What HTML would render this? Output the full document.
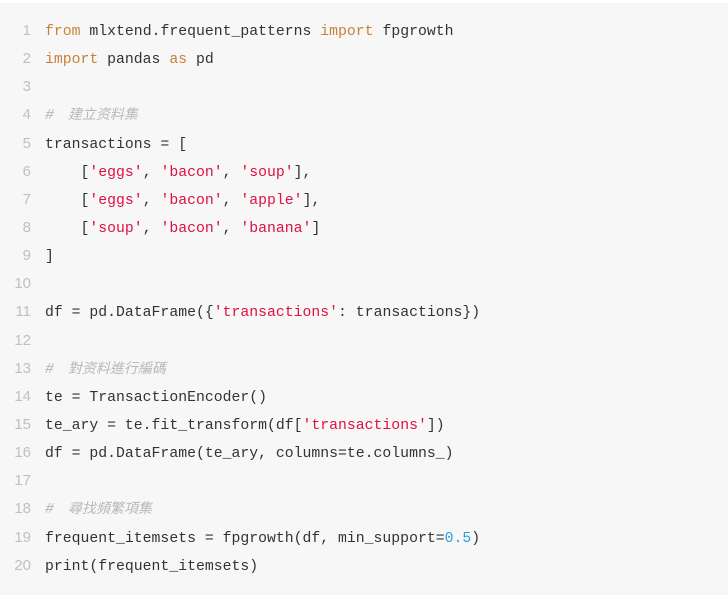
<!DOCTYPE html>
<html><head><meta charset="utf-8"><style>
html,body{margin:0;padding:0;width:728px;height:595px;overflow:hidden;background:#fff}
.box{position:absolute;left:0;top:3px;width:728px;height:592px;background:#f7f7f7}
.code{position:absolute;left:0;top:17px;font-family:"Liberation Mono",monospace;font-size:14.8px;color:#333;white-space:pre}
.code>div{height:28.15px;line-height:28.15px;overflow:visible}
.ln{display:inline-block;width:31px;text-align:right;color:#c0c0c0;margin-right:14px;font-family:"Liberation Sans",sans-serif;font-size:15px}
.k{color:#c8813b}.s{color:#dd1144}.n{color:#2aa0e3}
.c{color:#b0b0b0;font-style:italic}
.cj{font-family:"Noto Sans CJK TC",sans-serif;font-style:italic;color:#b8b8b8;font-size:14px;margin-left:14px;line-height:1}
</style></head><body><div class="box"></div>
<div class="code"><div><span class="ln">1</span><span class="k">from</span> mlxtend.frequent_patterns <span class="k">import</span> fpgrowth</div><div><span class="ln">2</span><span class="k">import</span> pandas <span class="k">as</span> pd</div><div><span class="ln">3</span></div><div><span class="ln">4</span><span class="c">#</span><span class="cj">建立资料集</span></div><div><span class="ln">5</span>transactions = [</div><div><span class="ln">6</span>    [<span class="s">'eggs'</span>, <span class="s">'bacon'</span>, <span class="s">'soup'</span>],</div><div><span class="ln">7</span>    [<span class="s">'eggs'</span>, <span class="s">'bacon'</span>, <span class="s">'apple'</span>],</div><div><span class="ln">8</span>    [<span class="s">'soup'</span>, <span class="s">'bacon'</span>, <span class="s">'banana'</span>]</div><div><span class="ln">9</span>]</div><div><span class="ln">10</span></div><div><span class="ln">11</span>df = pd.DataFrame({<span class="s">'transactions'</span>: transactions})</div><div><span class="ln">12</span></div><div><span class="ln">13</span><span class="c">#</span><span class="cj">對资料進行編碼</span></div><div><span class="ln">14</span>te = TransactionEncoder()</div><div><span class="ln">15</span>te_ary = te.fit_transform(df[<span class="s">'transactions'</span>])</div><div><span class="ln">16</span>df = pd.DataFrame(te_ary, columns=te.columns_)</div><div><span class="ln">17</span></div><div><span class="ln">18</span><span class="c">#</span><span class="cj">尋找頻繁項集</span></div><div><span class="ln">19</span>frequent_itemsets = fpgrowth(df, min_support=<span class="n">0.5</span>)</div><div><span class="ln">20</span>print(frequent_itemsets)</div></div>
</body></html>
